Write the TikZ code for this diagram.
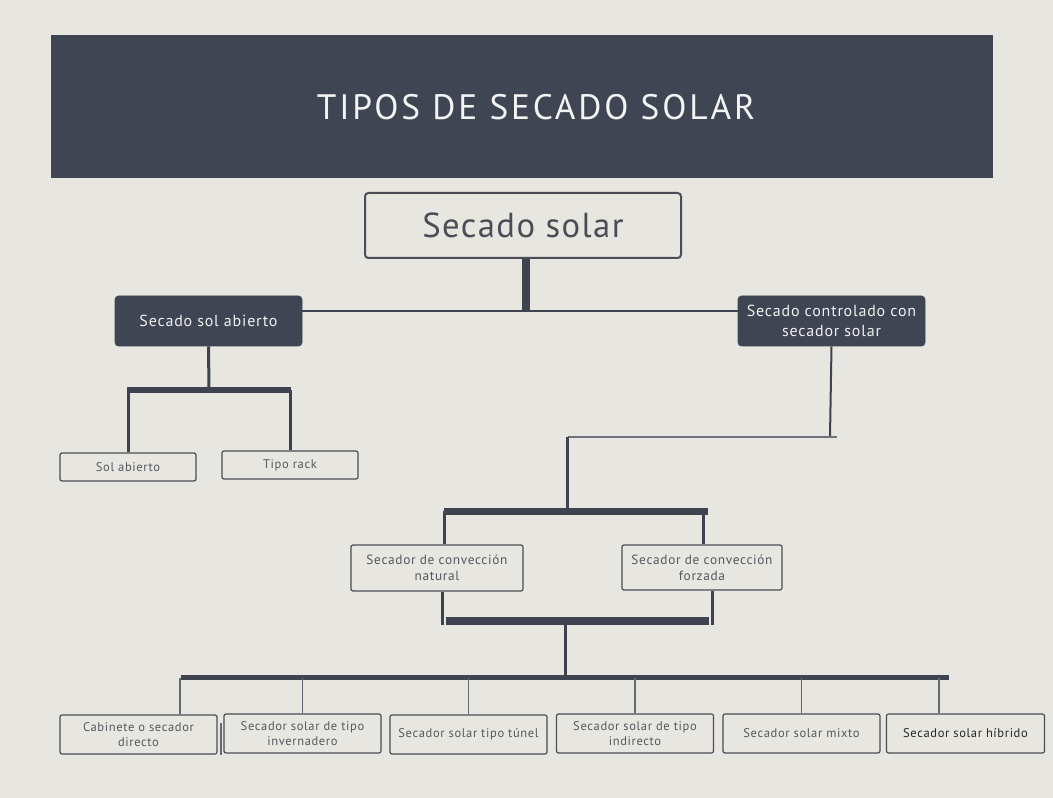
\documentclass[tikz,border=0pt]{standalone}
\usepackage{fontspec}
\setmainfont{PT Sans}
\newfontfamily\bodyfont[LetterSpace=5]{PT Sans}
\newfontfamily\titlefont[LetterSpace=8]{PT Sans}
\newfontfamily\rootfont[LetterSpace=4]{PT Sans}
\definecolor{bgc}{HTML}{E7E6E0}
\definecolor{navy}{HTML}{404553}
\definecolor{linec}{HTML}{3F4350}
\definecolor{txtc}{HTML}{55585F}
\definecolor{boxc}{HTML}{4A4D55}
\begin{document}
\begin{tikzpicture}[x=0.75pt,y=-0.75pt,
  banner/.style={fill=navy,draw=none,minimum width=706.5pt,minimum height=107.25pt,inner sep=0pt},
  titletext/.style={text=white!94!navy,font=\titlefont\fontsize{26.5}{30}\selectfont,inner sep=0pt},
  rootbox/.style={draw=boxc,line width=1.5pt,rounded corners=2.5pt,minimum width=237pt,minimum height=48.75pt,text=boxc,font=\rootfont\fontsize{26}{30}\selectfont},
  darkbox/.style={fill=navy,draw=navy,rounded corners=2.5pt,minimum width=140.25pt,minimum height=37.5pt,text=white!92!navy,font=\bodyfont\fontsize{12}{15}\selectfont,align=center,inner sep=1pt},
  smallbox/.style={draw=boxc,line width=0.9pt,rounded corners=1.5pt,minimum width=102pt,minimum height=21pt,text=txtc,font=\bodyfont\fontsize{9.4}{11.5}\selectfont,align=center,inner sep=1pt},
  midbox/.style={draw=boxc,line width=0.9pt,rounded corners=1.5pt,minimum height=34.5pt,text=txtc,font=\bodyfont\fontsize{10}{12}\selectfont,align=center,inner sep=1pt},
  leafbox/.style={draw=boxc,line width=0.9pt,rounded corners=1.5pt,minimum width=117.75pt,minimum height=29.25pt,text=txtc,font=\bodyfont\fontsize{9.4}{11.3}\selectfont,align=center,inner sep=1pt},
  thinln/.style={draw=linec,line width=1.5pt},
  medln/.style={draw=linec,line width=2.25pt},
  dropln/.style={draw=linec!80,line width=1.1pt},
  bar/.style={draw=linec}
]
\useasboundingbox (0,0) rectangle (1053,798);
\fill[bgc] (0,0) rectangle (1053,798);

% title banner
\node[banner] (banner) at (522,106.5) {};
\node[titletext] (title) at (536,107) {TIPOS DE SECADO SOLAR};

% main nodes
\node[rootbox] (root) at (523,225.5) {Secado solar};
\node[darkbox] (abierto) at (208.5,321) {Secado sol abierto};
\node[darkbox] (control) at (831.5,321) {Secado controlado con\\secador solar};

\node[smallbox] (solab) at (128,467) {Sol abierto};
\node[smallbox] (rack) at (290,465) {Tipo rack};

\node[midbox,minimum width=129pt] (natural) at (437,568) {Secador de convección\\natural};
\node[midbox,minimum width=120pt,minimum height=33.75pt] (forzada) at (702,567.5) {Secador de convección\\forzada};

\node[leafbox] (cab) at (138.5,734.5) {Cabinete o secador\\directo};
\node[leafbox] (inv) at (302.5,733.5) {Secador solar de tipo\\invernadero};
\node[leafbox] (tun) at (468.5,734.5) {Secador solar tipo túnel};
\node[leafbox] (ind) at (635,733.5) {Secador solar de tipo\\indirecto};
\node[leafbox] (mix) at (801.5,733.5) {Secador solar mixto};
\node[leafbox,minimum width=118.5pt,text=black!85] (hib) at (965.5,733.5) {Secador solar híbrido};

% junction coordinates
\coordinate (j1) at (526,311);
\coordinate (j2) at (209,390);
\coordinate (j3) at (830,437);
\coordinate (j3l) at (567.5,437);
\coordinate (j4) at (567.5,511);
\coordinate (j5) at (565.5,621);
\coordinate (j6) at (565.5,677.5);

% root to level 1
\draw[bar,line width=6pt] (root.south -| j1) -- (j1);
\draw[thinln] (j1 -| abierto.east) -- (j1 -| control.west);

% left branch
\draw[medln] (abierto.south) -- (j2);
\draw[bar,line width=4.5pt] (127,390) -- (291,390);
\draw[medln] (j2 -| solab.north) -- (solab.north);
\draw[medln] (j2 -| rack.north) -- (rack.north);

% right branch
\draw[thinln] (control.south) -- (j3);
\draw[draw=linec!75,line width=1.5pt] (j3l) -- ([xshift=5.25pt]j3);
\draw[medln] (j3l) -- (j4);
\draw[bar,line width=5.25pt] (444,511) -- (708,511);
\draw[medln] (444,511) -- (natural.north -| 444,0);
\draw[medln] (703,511) -- (forzada.north -| 703,0);

% convection to leaves
\draw[medln] (natural.south -| 442,0) -- (442,625);
\draw[medln] (forzada.south -| 712,0) -- (712,625);
\draw[bar,line width=6pt] (446,621) -- (709,621);
\draw[thinln,line width=1.9pt] (j5) -- (j6);
\draw[bar,line width=3.75pt] (181,677.5) -- (949,677.5);

\draw[dropln] (180,677.5) -- (cab.north -| 180,0);
\draw[dropln] (inv.north |- j6) -- (inv.north);
\draw[dropln] (tun.north |- j6) -- (tun.north);
\draw[dropln] (ind.north |- j6) -- (ind.north);
\draw[dropln] (mix.north |- j6) -- (mix.north);
\draw[dropln] (939,677.5) -- (hib.north -| 939,0);

% small stray mark left of invernadero box
\draw[dropln,line width=0.8pt] ([xshift=-1.8pt,yshift=-7pt]inv.north west) -- ([xshift=-1.8pt,yshift=-1pt]inv.south west);
\end{tikzpicture}
\end{document}
